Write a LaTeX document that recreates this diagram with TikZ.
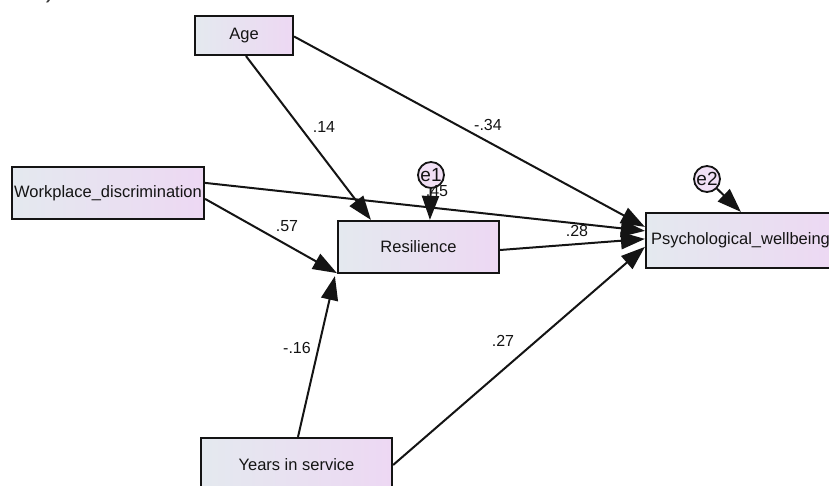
\documentclass[tikz,border=0pt]{standalone}
\usepackage{fontspec}
\setmainfont{Liberation Sans}
\usetikzlibrary{arrows.meta,calc}
\definecolor{boxL}{RGB}{228,233,239}
\definecolor{boxR}{RGB}{237,216,243}
\definecolor{ink}{RGB}{20,20,20}
\tikzset{
  var/.style={draw=ink, line width=2.2pt, left color=boxL, right color=boxR,
    inner sep=0pt, font=\fontsize{16.5}{18}\selectfont, text=ink},
  err/.style={circle, draw=ink, line width=1.8pt, fill=boxR!80!white,
    minimum size=26pt, inner sep=0pt, font=\fontsize{19}{20}\selectfont, text=ink},
  reg/.style={draw=ink, line width=2pt, -{Triangle[length=24pt,width=17pt]}},
  coef/.style={font=\fontsize{16}{18}\selectfont, text=ink, inner sep=0pt},
}
\begin{document}
\begin{tikzpicture}[x=1pt,y=-1pt]
\useasboundingbox (0,0) rectangle (829,486);
\clip (0,0) rectangle (829,486);
\fill[white] (0,0) rectangle (829,486);

\node[anchor=base west, font=\fontsize{26}{28}\selectfont, text=ink!85, inner sep=0pt] (frag) at (14,-2) {ws).};

\node[var, minimum width=98pt, minimum height=39pt] (age) at (244,35.5) {Age};
\node[var, minimum width=192pt, minimum height=52pt] (wd) at (108,193) {Workplace\_discrimination};
\node[var, minimum width=161pt, minimum height=52pt] (res) at (418.5,247) {Resilience};
\node[var, minimum width=189pt, minimum height=55pt] (psy) at (740.5,240.5) {Psychological\_wellbeing};
\node[var, minimum width=191pt, minimum height=54pt] (yrs) at (296.5,465) {Years in service};
\node[err] (e1) at (431,175) {e1};
\node[err] (e2) at (707,179) {e2};

\coordinate (ageB) at ($(age.south)+(2,0)$);
\coordinate (ageR) at ($(age.east)+(0,1)$);
\coordinate (wdR1) at ($(wd.north east)+(0,17)$);
\coordinate (wdR2) at ($(wd.north east)+(0,33)$);
\coordinate (resT) at ($(res.north west)+(34,0)$);
\coordinate (resTe) at ($(res.north west)+(93,0)$);
\coordinate (resBL) at ($(res.south west)+(0,-1)$);
\coordinate (resBt) at ($(res.south west)+(-2,2)$);
\coordinate (resR) at ($(res.east)+(0,3)$);
\coordinate (psyA) at ($(psy.north west)+(0,15)$);
\coordinate (psyW) at ($(psy.north west)+(0,19)$);
\coordinate (psyR) at ($(psy.north west)+(0,27)$);
\coordinate (psyY) at ($(psy.north west)+(0,35)$);
\coordinate (psyT) at ($(psy.north west)+(96,0)$);
\coordinate (yrsT) at ($(yrs.north)+(1.5,0)$);
\coordinate (yrsR) at (yrs.east);

\draw[reg] (ageB) -- (resT);
\draw[reg] (ageR) -- (psyA);
\draw[reg] (wdR1) -- (psyW);
\draw[reg] (wdR2) -- (resBL);
\draw[reg] (resR) -- (psyR);
\draw[reg] (yrsT) -- (resBt);
\draw[reg] (yrsR) -- (psyY);
\draw[reg] (e1) -- (resTe);
\draw[reg] (e2) -- (psyT);

\node[coef] (c14) at (324,127) {.14};
\node[coef] (c34) at (488,125) {-.34};
\node[coef] (c57) at (287,226) {.57};
\node[coef] (c28) at (577,231) {.28};
\node[coef] (c16) at (297,348) {-.16};
\node[coef] (c27) at (503,341) {.27};
\node[coef] (c45) at (437,191) {.45};
\end{tikzpicture}
\end{document}
